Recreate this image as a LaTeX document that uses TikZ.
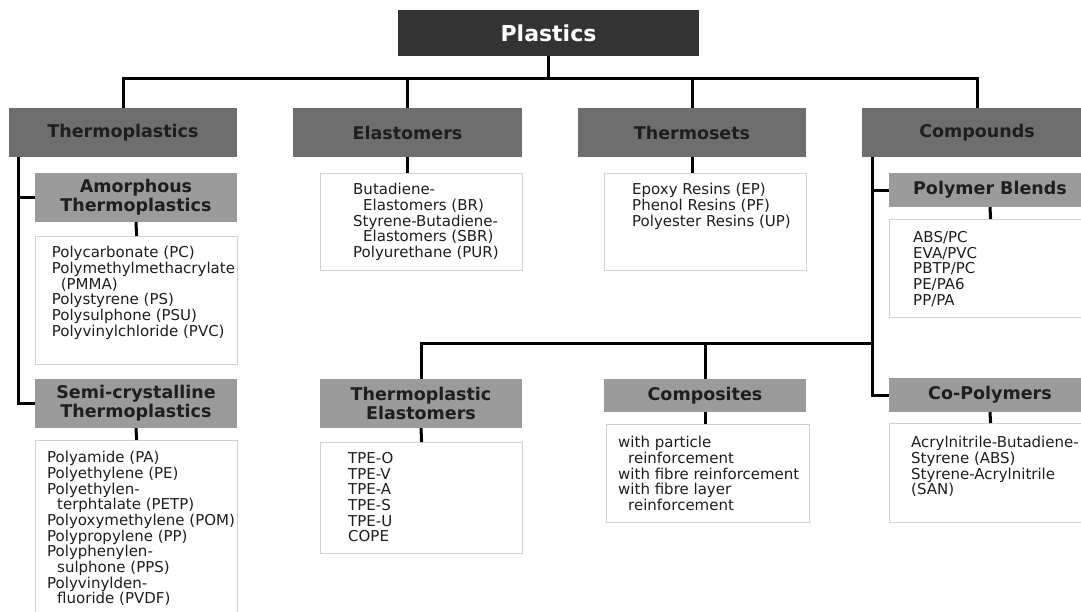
\documentclass[tikz,border=0pt]{standalone}
\usepackage{fontspec}
\setmainfont{DejaVu Sans}
\usetikzlibrary{positioning}
\definecolor{topgray}{HTML}{333333}
\definecolor{maingray}{HTML}{6E6E6E}
\definecolor{subgray}{HTML}{9B9B9B}
\definecolor{framegray}{HTML}{D2D2D2}
\definecolor{inkgray}{HTML}{1E1E1E}

\begin{document}
\begin{tikzpicture}[
  x=1pt, y=-1pt,
  box/.style={inner sep=0pt, align=center, text=inkgray},
  top/.style={box, fill=topgray, text=white,
              font=\fontsize{22}{24}\selectfont\bfseries},
  cat/.style={box, fill=maingray, font=\fontsize{17.5}{19}\selectfont\bfseries},
  sub/.style={box, fill=subgray, font=\fontsize{17.5}{19}\selectfont\bfseries},
  lst/.style={draw=framegray, line width=1.2pt, fill=white, inner sep=0pt,
              anchor=north west},
  items/.style={anchor=north west, align=left, inner sep=0pt, text=inkgray,
                font=\fontsize{15}{15.7}\selectfont},
  link/.style={line width=3pt, draw=black},
]
\useasboundingbox (0,0) rectangle (1081,611);
\clip (0,0) rectangle (1081,611);
\fill[white] (0,0) rectangle (1081,611);

% main categories
\node[top, minimum width=301, minimum height=46] (plastics) at (548.5,33) {Plastics};
\node[cat, minimum width=228, minimum height=49] (thermo) at (123,132.5) {Thermoplastics};
\node[cat, minimum width=229, minimum height=49] (elast)  at (407.5,132.5) {Elastomers};
\node[cat, minimum width=228, minimum height=49] (thset)  at (692,132.5) {Thermosets};
\node[cat, minimum width=230, minimum height=49] (comp)   at (977,132.5) {Compounds};

% sub categories
\node[sub, minimum width=202, minimum height=49] (amorph) at (136,197.5)
  {Amorphous\\Thermoplastics};
\node[sub, minimum width=202, minimum height=49] (semi) at (136,403.5)
  {Semi-crystalline\\Thermoplastics};
\node[sub, minimum width=202, minimum height=34] (blends) at (990,190) {Polymer Blends};
\node[sub, minimum width=202, minimum height=49] (tpe) at (421,403.5)
  {Thermoplastic\\Elastomers};
\node[sub, minimum width=202, minimum height=33] (composites) at (705,395.5) {Composites};
\node[sub, minimum width=202, minimum height=34] (copoly) at (990,395) {Co-Polymers};

% lists
\node[lst, minimum width=202, minimum height=128] (amlist)     at (35,236) {};
\node[lst, minimum width=202, minimum height=190] (semilist)   at (35,440) {};
\node[lst, minimum width=202, minimum height=97]  (elastlist)  at (320,173) {};
\node[lst, minimum width=202, minimum height=97]  (thsetlist)  at (604,173) {};
\node[lst, minimum width=202, minimum height=98]  (blendlist)  at (889,219) {};
\node[lst, minimum width=202, minimum height=111] (tpelist)    at (320,442) {};
\node[lst, minimum width=203, minimum height=98]  (complist)   at (606,424) {};
\node[lst, minimum width=202, minimum height=99]  (copolylist) at (889,423) {};

\node[items] (amtext) at (51.6,246)
  {Polycarbonate (PC)\\Polymethylmethacrylate\\\hspace*{9pt}(PMMA)\\
   Polystyrene (PS)\\Polysulphone (PSU)\\Polyvinylchloride (PVC)};
\node[items] (semitext) at (47,451)
  {Polyamide (PA)\\Polyethylene (PE)\\Polyethylen-\\\hspace*{10pt}terphtalate (PETP)\\
   Polyoxymethylene (POM)\\Polypropylene (PP)\\Polyphenylen-\\
   \hspace*{10pt}sulphone (PPS)\\Polyvinylden-\\\hspace*{10pt}fluoride (PVDF)};
\node[items] (elasttext) at (353,183)
  {Butadiene-\\\hspace*{10pt}Elastomers (BR)\\Styrene-Butadiene-\\
   \hspace*{10pt}Elastomers (SBR)\\Polyurethane (PUR)};
\node[items] (thsettext) at (632,183)
  {Epoxy Resins (EP)\\Phenol Resins (PF)\\Polyester Resins (UP)};
\node[items] (blendtext) at (913,231)
  {ABS/PC\\EVA/PVC\\PBTP/PC\\PE/PA6\\PP/PA};
\node[items] (tpetext) at (348,452)
  {TPE-O\\TPE-V\\TPE-A\\TPE-S\\TPE-U\\COPE};
\node[items] (comptext) at (618,436)
  {with particle\\\hspace*{10pt}reinforcement\\with fibre reinforcement\\
   with fibre layer\\\hspace*{10pt}reinforcement};
\node[items] (copolytext) at (911,436)
  {Acrylnitrile-Butadiene-\\Styrene (ABS)\\Styrene-Acrylnitrile\\(SAN)};

% top level bus
\coordinate (topbus) at ([yshift=-22pt]plastics.south);
\draw[link] (plastics.south) -- (topbus);
\foreach \n in {thermo,elast,thset,comp}
  \draw[link] (topbus) -| (\n.north);

% thermoplastics trunk
\coordinate (tptrunk) at ([xshift=10pt]thermo.south west);
\draw[link] (tptrunk) |- (semi.west);
\draw[link] (amorph.west) -- (amorph.west -| tptrunk);

% compounds trunk
\coordinate (cptrunk) at ([xshift=10.5pt]comp.south west);
\coordinate (midbus) at (cptrunk |- 0,343);
\draw[link] (cptrunk) |- (copoly.west);
\draw[link] (blends.west) -- (blends.west -| cptrunk);
\draw[link] (midbus) -| (tpe.north);
\draw[link] (composites.north) -- (composites.north |- midbus);

% boxes to lists
\draw[link] (elast.south) -- (elast.south |- elastlist.north);
\draw[link] (thset.south) -- (thset.south |- thsetlist.north);
\draw[link] (amorph.south) -- (amlist.north);
\draw[link] (semi.south) -- (semilist.north);
\draw[link] (blends.south) -- (blendlist.north);
\draw[link] (tpe.south) -- (tpelist.north);
\draw[link] (composites.south) -- (composites.south |- complist.north);
\draw[link] (copoly.south) -- (copolylist.north);

\end{tikzpicture}
\end{document}
